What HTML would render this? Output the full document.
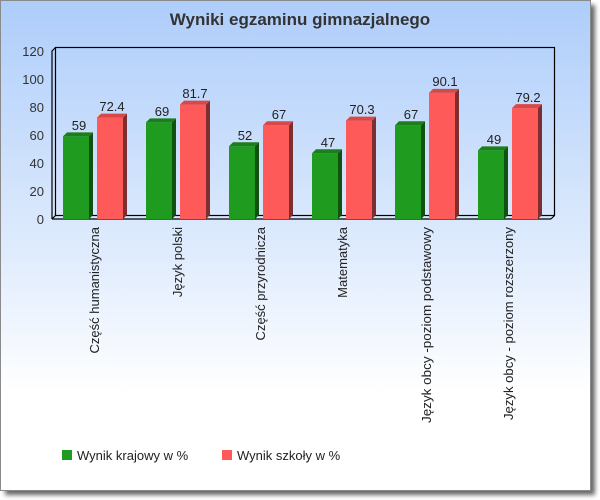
<!DOCTYPE html>
<html><head><meta charset="utf-8"><style>
html,body{margin:0;padding:0;width:600px;height:500px;background:#fff;overflow:hidden}
svg{display:block}
text{font-family:"Liberation Sans","DejaVu Sans",sans-serif}
</style></head><body>
<svg width="600" height="500" viewBox="0 0 600 500" xmlns="http://www.w3.org/2000/svg">
<defs>
<linearGradient id="bg" x1="0" y1="0" x2="0" y2="1">
<stop offset="0" stop-color="#aecdfb"/>
<stop offset="0.55" stop-color="#e3eefd"/>
<stop offset="0.8" stop-color="#ffffff"/>
<stop offset="1" stop-color="#ffffff"/>
</linearGradient>
<filter id="sh" x="-5%" y="-5%" width="115%" height="115%"><feGaussianBlur stdDeviation="2.5"/></filter>
</defs>
<rect x="5" y="5" width="590" height="490" fill="#666" filter="url(#sh)"/>
<rect x="0.5" y="0.5" width="590" height="490" fill="url(#bg)" stroke="#8a8a8a"/>
<text x="300" y="25" text-anchor="middle" font-size="17" font-weight="bold" fill="#333">Wyniki egzaminu gimnazjalnego</text>
<g stroke="#000" stroke-width="1.2" fill="none">
<rect x="55.5" y="47.5" width="499" height="168"/>
<polyline points="52,219 52,51 55.5,47.5"/>
<line x1="52" y1="219" x2="551" y2="219"/>
<line x1="551" y1="219" x2="554.5" y2="215.5"/>
<line x1="52" y1="219" x2="55.5" y2="215.5"/>
</g>
<g font-size="13" fill="#333" text-anchor="end">
<text x="44" y="56">120</text><text x="44" y="84">100</text><text x="44" y="112">80</text><text x="44" y="140">60</text><text x="44" y="168">40</text><text x="44" y="196">20</text><text x="44" y="224">0</text>
</g>
<g>
<g transform="translate(63,0)">
<rect x="0" y="136.4" width="26" height="82.6" fill="#1f9b1f"/><polygon points="26,136.4 30,132.4 30,215 26,219" fill="#115211"/><polygon points="0,136.4 4,132.4 30,132.4 26,136.4" fill="#1a7f1a"/>
<rect x="34" y="117.6" width="26" height="101.4" fill="#ff5a5a"/><polygon points="60,117.6 64,113.6 64,215 60,219" fill="#7d2e2e"/><polygon points="34,117.6 38,113.6 64,113.6 60,117.6" fill="#d84848"/>
</g>
<g transform="translate(146,0)">
<rect x="0" y="122.4" width="26" height="96.6" fill="#1f9b1f"/><polygon points="26,122.4 30,118.4 30,215 26,219" fill="#115211"/><polygon points="0,122.4 4,118.4 30,118.4 26,122.4" fill="#1a7f1a"/>
<rect x="34" y="104.6" width="26" height="114.4" fill="#ff5a5a"/><polygon points="60,104.6 64,100.6 64,215 60,219" fill="#7d2e2e"/><polygon points="34,104.6 38,100.6 64,100.6 60,104.6" fill="#d84848"/>
</g>
<g transform="translate(229,0)">
<rect x="0" y="146.2" width="26" height="72.8" fill="#1f9b1f"/><polygon points="26,146.2 30,142.2 30,215 26,219" fill="#115211"/><polygon points="0,146.2 4,142.2 30,142.2 26,146.2" fill="#1a7f1a"/>
<rect x="34" y="125.2" width="26" height="93.8" fill="#ff5a5a"/><polygon points="60,125.2 64,121.2 64,215 60,219" fill="#7d2e2e"/><polygon points="34,125.2 38,121.2 64,121.2 60,125.2" fill="#d84848"/>
</g>
<g transform="translate(312,0)">
<rect x="0" y="153.2" width="26" height="65.8" fill="#1f9b1f"/><polygon points="26,153.2 30,149.2 30,215 26,219" fill="#115211"/><polygon points="0,153.2 4,149.2 30,149.2 26,153.2" fill="#1a7f1a"/>
<rect x="34" y="120.6" width="26" height="98.4" fill="#ff5a5a"/><polygon points="60,120.6 64,116.6 64,215 60,219" fill="#7d2e2e"/><polygon points="34,120.6 38,116.6 64,116.6 60,120.6" fill="#d84848"/>
</g>
<g transform="translate(395,0)">
<rect x="0" y="125.2" width="26" height="93.8" fill="#1f9b1f"/><polygon points="26,125.2 30,121.2 30,215 26,219" fill="#115211"/><polygon points="0,125.2 4,121.2 30,121.2 26,125.2" fill="#1a7f1a"/>
<rect x="34" y="92.9" width="26" height="126.1" fill="#ff5a5a"/><polygon points="60,92.9 64,88.9 64,215 60,219" fill="#7d2e2e"/><polygon points="34,92.9 38,88.9 64,88.9 60,92.9" fill="#d84848"/>
</g>
<g transform="translate(478,0)">
<rect x="0" y="150.4" width="26" height="68.6" fill="#1f9b1f"/><polygon points="26,150.4 30,146.4 30,215 26,219" fill="#115211"/><polygon points="0,150.4 4,146.4 30,146.4 26,150.4" fill="#1a7f1a"/>
<rect x="34" y="108.1" width="26" height="110.9" fill="#ff5a5a"/><polygon points="60,108.1 64,104.1 64,215 60,219" fill="#7d2e2e"/><polygon points="34,108.1 38,104.1 64,104.1 60,108.1" fill="#d84848"/>
</g>
</g>
<g font-size="13" fill="#222" text-anchor="middle">
<text x="79" y="130">59</text><text x="112" y="111">72.4</text>
<text x="162" y="116">69</text><text x="195" y="98">81.7</text>
<text x="245" y="140">52</text><text x="279" y="119">67</text>
<text x="328" y="147">47</text><text x="362" y="114">70.3</text>
<text x="411" y="119">67</text><text x="445" y="86">90.1</text>
<text x="494" y="144">49</text><text x="528" y="102">79.2</text>
</g>
<g font-size="13" fill="#222" text-anchor="end">
<text transform="translate(99,227) rotate(-90)">Część humanistyczna</text>
<text transform="translate(182,227) rotate(-90)">Język polski</text>
<text transform="translate(265,227) rotate(-90)">Część przyrodnicza</text>
<text transform="translate(347,227) rotate(-90)">Matematyka</text>
<text transform="translate(431,227) rotate(-90)" textLength="196" lengthAdjust="spacingAndGlyphs">Język obcy -poziom podstawowy</text>
<text transform="translate(513,227) rotate(-90)" textLength="193" lengthAdjust="spacingAndGlyphs">Język obcy - poziom rozszerzony</text>
</g>
<rect x="62" y="450" width="10" height="10" fill="#1f9b1f"/>
<text x="77" y="460" font-size="13" fill="#222">Wynik krajowy w %</text>
<rect x="222" y="450" width="10" height="10" fill="#ff5a5a"/>
<text x="237" y="460" font-size="13" fill="#222">Wynik szkoły w %</text>
</svg>
</body></html>
